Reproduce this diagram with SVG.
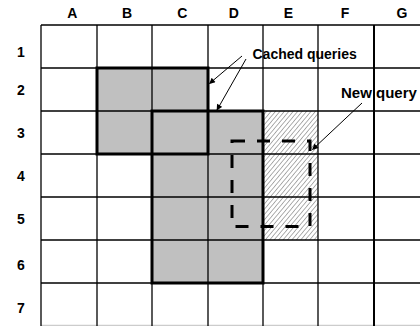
<svg xmlns="http://www.w3.org/2000/svg" width="420" height="326" viewBox="0 0 420 326">
  <style>
    .lbl { font-family: "Liberation Sans", Arial, sans-serif; font-weight: bold; font-size: 14px; fill: #000; }
    .grid line { stroke: #000; stroke-width: 1.3; }
    .cached { fill: #c0c0c0; stroke: none; }
    .border { fill: none; stroke: #000; stroke-width: 3; }
    .query { fill: none; stroke: #000; stroke-width: 3; stroke-dasharray: 13 12; }
    .arrow { stroke: #000; stroke-width: 1; fill: none; marker-end: url(#head); }
  </style>
  <defs>
    <pattern id="hatch" width="3.4" height="3.4" patternUnits="userSpaceOnUse" patternTransform="rotate(40)">
      <rect width="3.4" height="3.4" fill="#fff"/>
      <line x1="0" y1="0" x2="0" y2="3.4" stroke="#7a7a7a" stroke-width="1.2"/>
    </pattern>
    <marker id="head" viewBox="0 0 10 10" refX="9" refY="5" markerWidth="7" markerHeight="6" markerUnits="userSpaceOnUse" orient="auto">
      <path d="M0,0 L10,5 L0,10 Z" fill="#000"/>
    </marker>
  </defs>

  <rect width="420" height="326" fill="#fff"/>

  <!-- filled cells -->
  <g id="fills">
    <rect class="cached" x="97" y="68" width="111" height="86"/>
    <rect class="cached" x="152" y="111" width="111" height="172"/>
    <rect x="263" y="111" width="55" height="129" fill="url(#hatch)"/>
  </g>

  <!-- grid -->
  <g id="grid" class="grid">
    <line x1="41" y1="25" x2="420" y2="25"/>
    <line x1="41" y1="68" x2="420" y2="68"/>
    <line x1="41" y1="111" x2="420" y2="111"/>
    <line x1="41" y1="154" x2="420" y2="154"/>
    <line x1="41" y1="197" x2="420" y2="197"/>
    <line x1="41" y1="240" x2="420" y2="240"/>
    <line x1="41" y1="283" x2="420" y2="283"/>
    <line x1="41" y1="325.5" x2="420" y2="325.5" style="stroke:#ccc"/>
    <line x1="41" y1="25" x2="41" y2="326"/>
    <line x1="97" y1="25" x2="97" y2="326"/>
    <line x1="152" y1="25" x2="152" y2="326"/>
    <line x1="208" y1="25" x2="208" y2="326"/>
    <line x1="263" y1="25" x2="263" y2="326"/>
    <line x1="318" y1="25" x2="318" y2="326"/>
    <line x1="374" y1="25" x2="374" y2="326" style="stroke-width:2"/>
  </g>

  <!-- column headers -->
  <g id="columns" class="lbl" text-anchor="middle">
    <text x="72.3" y="18.3">A</text>
    <text x="127" y="18.3">B</text>
    <text x="182.4" y="18.3">C</text>
    <text x="233.7" y="18.3">D</text>
    <text x="288.3" y="18.3">E</text>
    <text x="345" y="18.3">F</text>
    <text x="402" y="18.3">G</text>
  </g>

  <!-- row headers -->
  <g id="rows" class="lbl" text-anchor="middle">
    <text x="21" y="57.3">1</text>
    <text x="21" y="95">2</text>
    <text x="21" y="137.7">3</text>
    <text x="21" y="181.3">4</text>
    <text x="21" y="223.7">5</text>
    <text x="21" y="269.7">6</text>
    <text x="21" y="313">7</text>
  </g>

  <!-- cached query outlines -->
  <g id="cached-b2-c3">
    <rect class="border" x="97" y="68" width="111" height="86"/>
  </g>
  <g id="cached-c3-d6">
    <rect class="border" x="152" y="111" width="111" height="172"/>
  </g>

  <!-- new query outline -->
  <g id="new-query">
    <rect class="query" x="232" y="141" width="78" height="85.5"/>
  </g>

  <!-- callouts -->
  <g id="connectors">
    <line class="arrow" x1="242" y1="56" x2="209.5" y2="83.5"/>
    <line class="arrow" x1="246" y1="59" x2="217" y2="110"/>
    <line class="arrow" x1="362" y1="103" x2="312.5" y2="149.5"/>
  </g>

  <g id="label-cached">
    <text class="lbl" x="252.5" y="58.5">Cached queries</text>
  </g>
  <g id="label-new">
    <text class="lbl" x="341" y="98" style="font-size:15px">New query</text>
  </g>
</svg>
